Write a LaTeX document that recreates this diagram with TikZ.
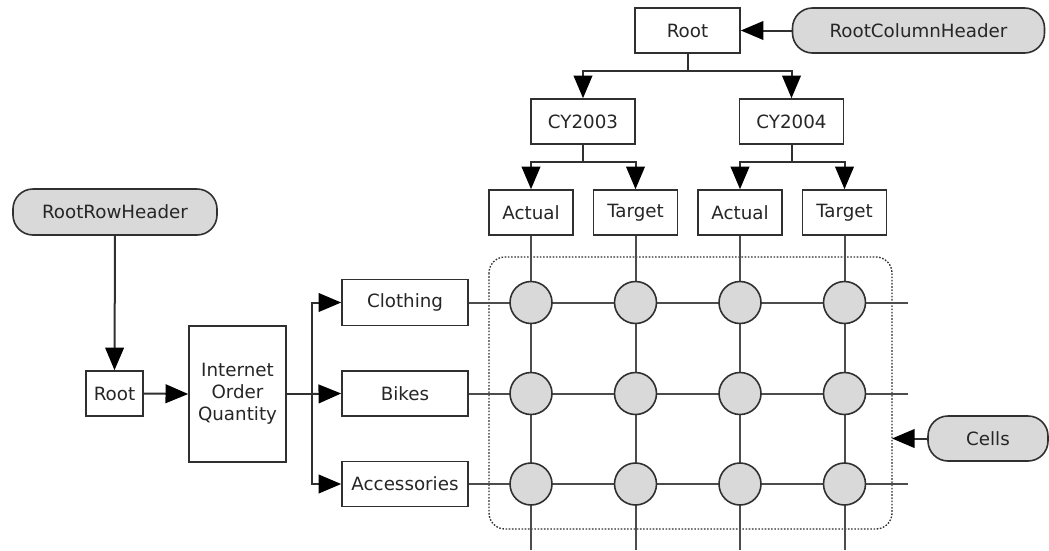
\documentclass[tikz,border=0pt]{standalone}
\usepackage{fontspec}
\setmainfont{DejaVu Sans}
\usetikzlibrary{arrows.meta,positioning}
\definecolor{ln}{HTML}{303030}
\definecolor{cellfill}{HTML}{D9D9D9}
\tikzset{
  box/.style={draw=ln, line width=1.2pt, fill=white, inner sep=0pt, font=\fontsize{13.7}{16.5}\selectfont, text=black!85},
  pill/.style={draw=ln, line width=1.2pt, fill=cellfill, rounded corners=15pt, inner sep=0pt, font=\fontsize{13.7}{16.5}\selectfont, text=black!85},
  cell/.style={draw=ln, line width=1.2pt, fill=cellfill, circle, minimum size=31.5pt, inner sep=0pt},
  conn/.style={draw=ln, line width=1.5pt},
  arr/.style={conn, -{Triangle[length=17pt,width=14pt,color=black]}},
  grid/.style={draw=black!70, line width=1.5pt},
}
\begin{document}
\begin{tikzpicture}[x=0.75pt,y=-0.75pt]
\useasboundingbox (0,0) rectangle (1049,550);
% column header tree
\node[box, minimum width=78.75pt, minimum height=33.75pt] (root) at (687.5,30.5) {Root};
\node[pill, minimum width=189pt, minimum height=33.75pt] (rch) at (918.5,30.5) {RootColumnHeader};
\node[box, minimum width=78pt, minimum height=33.75pt] (cy3) at (583,121.5) {CY2003};
\node[box, minimum width=78pt, minimum height=33.75pt] (cy4) at (791.5,121.5) {CY2004};
\node[box, minimum width=63pt, minimum height=33.75pt] (a1) at (531,212.5) {Actual};
\node[box, minimum width=63pt, minimum height=33.75pt] (t1) at (635.5,212.5) {Target};
\node[box, minimum width=63pt, minimum height=33.75pt] (a2) at (740,212.5) {Actual};
\node[box, minimum width=63pt, minimum height=33.75pt] (t2) at (844.5,212.5) {Target};
% row header tree
\node[pill, minimum width=153pt, minimum height=34.5pt] (rrh) at (115,212) {RootRowHeader};
\node[box, minimum width=42.75pt, minimum height=33.75pt] (rroot) at (114.5,393.5) {Root};
\node[box, minimum width=72.75pt, minimum height=102pt, align=center] (ioq) at (237.5,394) {Internet\\Order\\Quantity};
\node[box, minimum width=94.5pt, minimum height=34.5pt] (clo) at (405,302.5) {Clothing};
\node[box, minimum width=94.5pt, minimum height=33.75pt] (bik) at (405,393.5) {Bikes};
\node[box, minimum width=94.5pt, minimum height=33.75pt] (acc) at (405,484) {Accessories};
% cells callout
\node[pill, minimum width=90pt, minimum height=33.75pt] (cells) at (988,438.5) {Cells};
\draw[draw=ln, line width=1pt, dash pattern=on 1.2pt off 1.2pt, rounded corners=12pt] (489,257) rectangle (892,529);
\coordinate (cellsedge) at (892,438.5);
% arrows top
\draw[arr] (rch.west) -- (root.east);
\draw[conn] (root.south) -- ++(0,17.5) coordinate (rj);
\draw[arr] (rj) -| (cy3.north);
\draw[arr] (rj) -| (cy4.north);
\draw[conn] (cy3.south) -- ++(0,17.5) coordinate (cj3);
\draw[arr] (cj3) -| (a1.north);
\draw[arr] (cj3) -| (t1.north);
\draw[conn] (cy4.south) -- ++(0,17.5) coordinate (cj4);
\draw[arr] (cj4) -| (a2.north);
\draw[arr] (cj4) -| (t2.north);
% arrows left
\draw[arr] (rrh.south) -- (rroot.north);
\draw[arr] (rroot.east) -- (ioq.west);
\draw[conn] (ioq.east) -- (312,394) coordinate (tr);
\draw[arr] (tr) |- (clo.west);
\draw[arr] (tr) -- (bik.west);
\draw[arr] (tr) |- (acc.west);
\draw[arr] (cells.west) -- (cellsedge);
% grid lines
\foreach \c/\x in {a1/531,t1/635.5,a2/740,t2/844.5}{
  \coordinate (bot-\c) at (\x,550);
  \draw[grid] (\c.south) -- (bot-\c);
}
\foreach \r/\y in {clo/302.5,bik/393.5,acc/484}{
  \coordinate (end-\r) at (908,\y);
  \draw[grid] (\r.east) -- (end-\r);
}
% cells
\foreach \r/\y in {clo/302.5,bik/393.5,acc/484}{
  \foreach \c/\x in {a1/531,t1/635.5,a2/740,t2/844.5}{
    \node[cell] (cell-\r-\c) at (\x,\y) {};
  }
}
\end{tikzpicture}
\end{document}
